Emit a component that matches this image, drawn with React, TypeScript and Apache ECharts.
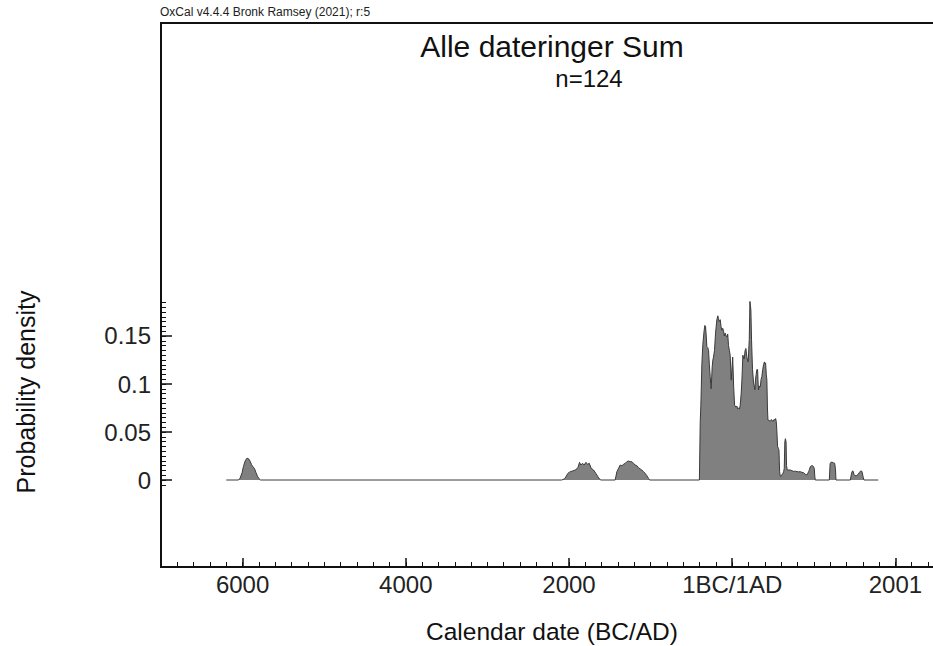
import React, { useEffect, useRef } from "react";
import * as echarts from "echarts";

// ---- Data (year: astronomical, negative = BC; 0 = 1BC/1AD boundary) ----
const baselineStart = -6200;
const baselineEnd = 1790;

const mesolithicYears = [-6050, -6030, -6005, -5990, -5968, -5950, -5935, -5920, -5905, -5890, -5875, -5855, -5837, -5818, -5800, -5780];
const mesolithicDensity = [0, 0.002, 0.008, 0.014, 0.02, 0.0225, 0.0225, 0.0215, 0.019, 0.016, 0.014, 0.012, 0.008, 0.004, 0.0015, 0];

const bronzeAYears = [-2090, -2060, -2047, -2014, -1985, -1957, -1924, -1891, -1871, -1855, -1834, -1814, -1793, -1773, -1752, -1728, -1699, -1671, -1646, -1626, -1609];
const bronzeADensity = [0, 0.001, 0.002, 0.0069, 0.0087, 0.0094, 0.0104, 0.0128, 0.0184, 0.0156, 0.0174, 0.0156, 0.0184, 0.0163, 0.0174, 0.0122, 0.0104, 0.0069, 0.0035, 0.001, 0];

const bronzeBYears = [-1434, -1413, -1393, -1373, -1352, -1332, -1311, -1291, -1271, -1250, -1229, -1209, -1189, -1168, -1148, -1127, -1107, -1087, -1066, -1046, -1025, -1013];
const bronzeBDensity = [0, 0.0087, 0.0122, 0.0156, 0.0149, 0.0163, 0.0174, 0.0191, 0.0198, 0.0191, 0.0191, 0.0174, 0.0156, 0.0149, 0.0128, 0.0115, 0.0104, 0.0087, 0.0069, 0.0045, 0.0017, 0];

const ironAgeYears = [
  -402, -392, -384, -372, -360, -345, -335, -327, -318, -311, -300, -290, -280, -270, -258, -245, -237, -229, -217, -204,
  -188, -176, -168, -160, -147, -137, -127, -116, -106, -96, -86, -75, -65, -55, -45, -35, -25, -12, 6, 18,
  29, 45, 57, 68, 78, 90, 98, 110, 119, 131, 140, 147, 158, 168, 180, 190, 196, 205, 209, 214,
  217, 223, 229, 237, 249, 262, 270, 278, 286, 294, 302, 311, 318, 323, 334, 344, 354, 364, 374, 384,
  395, 403, 409, 418, 425, 432, 438, 452, 466, 480, 499, 512, 524, 532, 540, 548, 556, 566, 573, 577,
  581, 589, 597, 605, 613, 622, 630, 638, 645, 652, 660, 666, 675, 695, 712, 732, 753, 775, 794, 814,
  834, 855, 875, 895, 916, 926, 937, 947, 957, 970, 986, 996, 1006, 1012, 1018,
];
const ironAgeDensity = [
  0, 0.06, 0.078, 0.12, 0.141, 0.155, 0.161, 0.16, 0.15, 0.139, 0.138, 0.135, 0.12, 0.108, 0.095, 0.118, 0.125, 0.128, 0.135, 0.153,
  0.167, 0.171, 0.168, 0.165, 0.167, 0.16, 0.156, 0.158, 0.155, 0.15, 0.153, 0.15, 0.149, 0.152, 0.14, 0.135, 0.13, 0.104, 0.128, 0.097,
  0.078, 0.076, 0.077, 0.074, 0.075, 0.074, 0.078, 0.09, 0.104, 0.13, 0.127, 0.126, 0.135, 0.137, 0.128, 0.124, 0.123, 0.14, 0.146, 0.17,
  0.186, 0.182, 0.177, 0.146, 0.115, 0.101, 0.098, 0.094, 0.105, 0.11, 0.115, 0.115, 0.1, 0.094, 0.098, 0.097, 0.105, 0.108, 0.115, 0.12,
  0.123, 0.121, 0.122, 0.11, 0.104, 0.075, 0.0625, 0.062, 0.061, 0.063, 0.061, 0.063, 0.0625, 0.064, 0.061, 0.05, 0.035, 0.033, 0.031, 0.02,
  0.0087, 0.004, 0.0035, 0.005, 0.0052, 0.007, 0.0087, 0.012, 0.04, 0.043, 0.04, 0.015, 0.0104, 0.0104, 0.0104, 0.0097, 0.009, 0.0092, 0.0087, 0.0085,
  0.0087, 0.008, 0.0076, 0.006, 0.0052, 0.007, 0.0087, 0.011, 0.0139, 0.0149, 0.0149, 0.014, 0.012, 0.004, 0,
];

const medievalYears = [1190, 1200, 1210, 1225, 1240, 1255, 1265, 1272];
const medievalDensity = [0, 0.017, 0.0185, 0.0185, 0.018, 0.0175, 0.012, 0];

const lateYears = [1448, 1458, 1470, 1480, 1492, 1505, 1520, 1540, 1560, 1575, 1590, 1605, 1615];
const lateDensity = [0, 0.005, 0.009, 0.0095, 0.006, 0.0045, 0.0045, 0.0055, 0.008, 0.0095, 0.009, 0.003, 0];

const xMajorTicks = [-6000, -4000, -2000, 0, 2000];
const yMajorTicks = [0, 0.05, 0.1, 0.15];

const titleText = "Alle dateringer Sum";
const subtitleText = "n=124";
const programText = "OxCal v4.4.4 Bronk Ramsey (2021); r:5";
const xAxisTitle = "Calendar date (BC/AD)";
const yAxisTitle = "Probability density";

// ---- helpers ----
const FONT = '"Liberation Sans", Arial, Helvetica, sans-serif';

function pairs(xs: number[], ys: number[]): number[][] {
  return xs.map((x, i) => [x, ys[i]]);
}

function range(start: number, end: number, step: number, digits: number): number[] {
  const out: number[] = [];
  const n = Math.round((end - start) / step);
  for (let i = 0; i <= n; i++) out.push(Number((start + i * step).toFixed(digits)));
  return out;
}

const xMinorTicks = range(-7000, 2800, 200, 0);
const yMinorTicks = range(-0.005, 0.185, 0.005, 3);

function yearLabel(v: number): string {
  if (v < 0) return String(-v);
  if (v === 0) return "1BC/1AD";
  return String(v + 1);
}

// canvas wider than the 933px window so that the plot frame runs off the right edge
const CANVAS_W = 1000;
const CANVAS_H = 646;

export default function App() {
  const ref = useRef<HTMLDivElement | null>(null);

  useEffect(() => {
    if (!ref.current) return;
    const chart = echarts.init(ref.current, undefined, { renderer: "svg" });

    const data: number[][] = [
      [baselineStart, 0],
      ...pairs(mesolithicYears, mesolithicDensity),
      ...pairs(bronzeAYears, bronzeADensity),
      ...pairs(bronzeBYears, bronzeBDensity),
      ...pairs(ironAgeYears, ironAgeDensity),
      ...pairs(medievalYears, medievalDensity),
      ...pairs(lateYears, lateDensity),
      [baselineEnd, 0],
    ];

    const xMin = -7000;
    const xMax = 3000;
    const yMin = -0.0906;
    const yMax = 0.476;

    chart.setOption({
      animation: false,
      backgroundColor: "#ffffff",
      grid: {
        left: 161,
        top: 23,
        right: CANVAS_W - 161 - 816,
        bottom: CANVAS_H - 567,
        show: true,
        borderColor: "#111111",
        borderWidth: 2,
        backgroundColor: "transparent",
        containLabel: false,
      },
      xAxis: [
        {
          type: "value",
          min: xMin,
          max: xMax,
          position: "bottom",
          axisLine: { show: false, onZero: false },
          splitLine: { show: false },
          axisTick: {
            show: true,
            inside: true,
            length: 9,
            customValues: xMajorTicks,
            lineStyle: { color: "#111111", width: 1.5 },
          },
          axisLabel: {
            customValues: xMajorTicks,
            formatter: (v: number) => yearLabel(v),
            fontSize: 24,
            fontFamily: FONT,
            color: "#222222",
            margin: 5,
          },
        },
        {
          type: "value",
          min: xMin,
          max: xMax,
          position: "bottom",
          offset: 0,
          axisLine: { show: false, onZero: false },
          splitLine: { show: false },
          axisTick: {
            show: true,
            inside: true,
            length: 5,
            customValues: xMinorTicks,
            lineStyle: { color: "#111111", width: 1 },
          },
          axisLabel: { show: false },
        },
      ],
      yAxis: [
        {
          type: "value",
          min: yMin,
          max: yMax,
          position: "left",
          axisLine: { show: false, onZero: false },
          splitLine: { show: false },
          axisTick: {
            show: true,
            inside: true,
            length: 11,
            customValues: yMajorTicks,
            lineStyle: { color: "#111111", width: 1.5 },
          },
          axisLabel: {
            customValues: yMajorTicks,
            formatter: (v: number) => String(v),
            fontSize: 24,
            fontFamily: FONT,
            color: "#222222",
            margin: 10,
          },
        },
        {
          type: "value",
          min: yMin,
          max: yMax,
          position: "left",
          offset: 0,
          axisLine: { show: false, onZero: false },
          splitLine: { show: false },
          axisTick: {
            show: true,
            inside: true,
            length: 5,
            customValues: yMinorTicks,
            lineStyle: { color: "#111111", width: 1 },
          },
          axisLabel: { show: false },
        },
      ],
      series: [
        {
          type: "line",
          xAxisIndex: 0,
          yAxisIndex: 0,
          data,
          showSymbol: false,
          symbol: "none",
          silent: true,
          lineStyle: { color: "#3a3a3a", width: 1 },
          areaStyle: { color: "#808080", opacity: 1, origin: 0 },
        },
      ],
      graphic: [
        {
          type: "text",
          left: 160,
          top: 6,
          style: { text: programText, fontSize: 12, fontFamily: FONT, fill: "#222222" },
        },
        {
          type: "text",
          x: 552,
          y: 46,
          style: {
            text: titleText,
            fontSize: 30,
            fontFamily: FONT,
            fill: "#111111",
            textAlign: "center",
            textVerticalAlign: "middle",
          },
        },
        {
          type: "text",
          x: 589,
          y: 78,
          style: {
            text: subtitleText,
            fontSize: 24,
            fontFamily: FONT,
            fill: "#111111",
            textAlign: "center",
            textVerticalAlign: "middle",
          },
        },
        {
          type: "text",
          x: 552,
          y: 631,
          style: {
            text: xAxisTitle,
            fontSize: 24.5,
            fontFamily: FONT,
            fill: "#111111",
            textAlign: "center",
            textVerticalAlign: "middle",
          },
        },
        {
          type: "text",
          x: 26,
          y: 392,
          rotation: Math.PI / 2,
          style: {
            text: yAxisTitle,
            fontSize: 25,
            fontFamily: FONT,
            fill: "#111111",
            textAlign: "center",
            textVerticalAlign: "middle",
          },
        },
      ],
    });

    return () => chart.dispose();
  }, []);

  return (
    <div
      ref={ref}
      style={{ position: "fixed", left: 0, top: 0, width: CANVAS_W, height: CANVAS_H, background: "#fff" }}
    />
  );
}
